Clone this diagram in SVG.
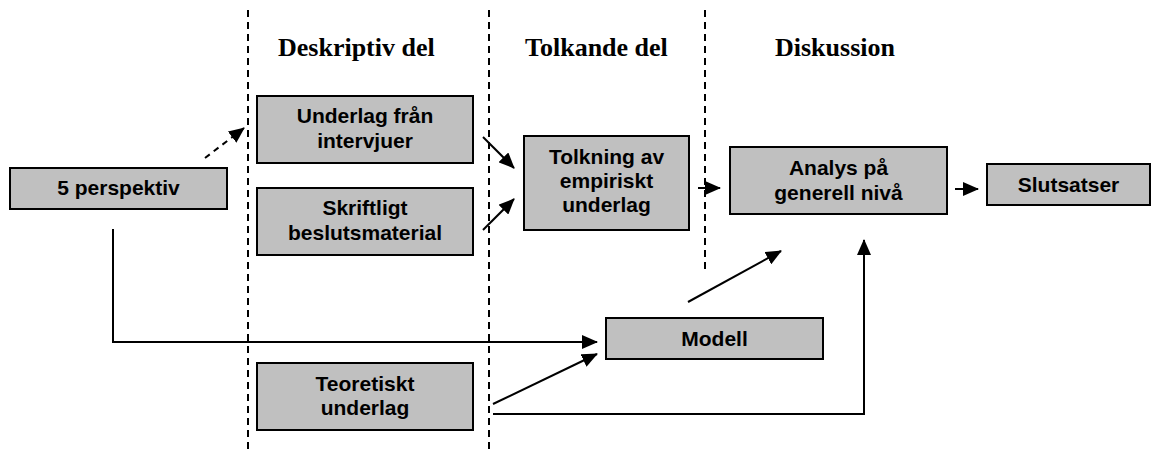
<svg xmlns="http://www.w3.org/2000/svg" width="1156" height="450" viewBox="0 0 1156 450">
<style>
.box{fill:#c0c0c0;stroke:#000;stroke-width:2}
.t{font-family:"Liberation Sans",Arial,sans-serif;font-weight:bold;font-size:21px;fill:#000;text-anchor:middle}
.h{font-family:"Liberation Serif","Times New Roman",serif;font-weight:bold;font-size:26px;fill:#000}
.sep{stroke:#000;stroke-width:2;stroke-dasharray:7 5;fill:none}
.c{stroke:#000;stroke-width:2;fill:none;marker-end:url(#ah)}
</style>
<defs>
<marker id="ah" markerUnits="userSpaceOnUse" markerWidth="16" markerHeight="14" refX="15" refY="7" orient="auto">
<path d="M0,0 L16,7 L0,14 Z" fill="#000"/>
</marker>
</defs>
<rect width="1156" height="450" fill="#fff"/>
<g id="separators">
<line class="sep" x1="248" y1="10" x2="248" y2="450"/>
<line class="sep" x1="489" y1="10" x2="489" y2="450"/>
<line class="sep" x1="705" y1="10" x2="705" y2="270"/>
</g>
<g id="headers">
<text class="h" x="278" y="56">Deskriptiv del</text>
<text class="h" x="525" y="56">Tolkande del</text>
<text class="h" x="775" y="56">Diskussion</text>
</g>
<g id="connectors">
<line class="c" x1="205" y1="158" x2="244" y2="128" style="stroke-dasharray:6 5"/>
<line class="c" x1="483" y1="137" x2="514" y2="168"/>
<line class="c" x1="483" y1="230" x2="514" y2="199"/>
<line class="c" x1="698" y1="188" x2="720" y2="188"/>
<line class="c" x1="955" y1="189" x2="978" y2="189"/>
<polyline class="c" points="113,229 113,342 597,342"/>
<line class="c" x1="493" y1="404" x2="597" y2="354"/>
<polyline class="c" points="493,414 864,414 864,240"/>
<line class="c" x1="688" y1="302" x2="781" y2="251"/>
</g>
<g id="n-perspektiv">
<rect class="box" x="10" y="168" width="217" height="41"/>
<text class="t" x="118.5" y="195">5 perspektiv</text>
</g>
<g id="n-underlag">
<rect class="box" x="257" y="96" width="216" height="67"/>
<text class="t" x="365" y="123">Underlag från</text>
<text class="t" x="365" y="148">intervjuer</text>
</g>
<g id="n-skriftligt">
<rect class="box" x="257" y="188" width="216" height="67"/>
<text class="t" x="365" y="215">Skriftligt</text>
<text class="t" x="365" y="240">beslutsmaterial</text>
</g>
<g id="n-tolkning">
<rect class="box" x="524" y="136" width="165" height="94"/>
<text class="t" x="606.5" y="164">Tolkning av</text>
<text class="t" x="606.5" y="188">empiriskt</text>
<text class="t" x="606.5" y="212">underlag</text>
</g>
<g id="n-analys">
<rect class="box" x="730" y="147" width="217" height="67"/>
<text class="t" x="838.5" y="175">Analys på</text>
<text class="t" x="838.5" y="200">generell nivå</text>
</g>
<g id="n-slutsatser">
<rect class="box" x="987" y="164" width="163" height="41"/>
<text class="t" x="1068.5" y="192">Slutsatser</text>
</g>
<g id="n-modell">
<rect class="box" x="606" y="318" width="217" height="41"/>
<text class="t" x="714.5" y="346">Modell</text>
</g>
<g id="n-teoretiskt">
<rect class="box" x="257" y="363" width="216" height="67"/>
<text class="t" x="365" y="391">Teoretiskt</text>
<text class="t" x="365" y="415">underlag</text>
</g>
</svg>
